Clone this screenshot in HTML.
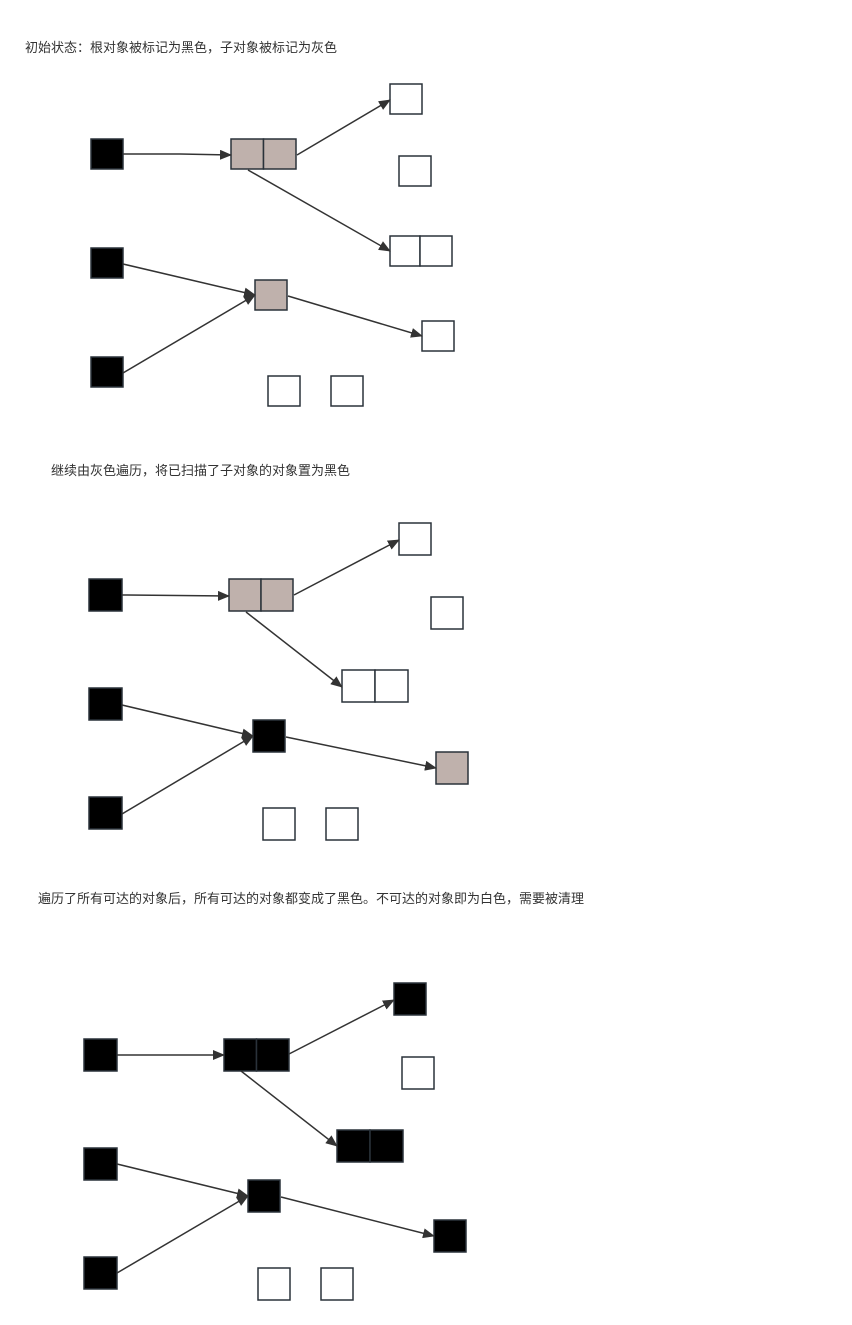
<!DOCTYPE html>
<html><head><meta charset="utf-8"><style>
html,body{margin:0;padding:0;background:#fff;}
svg{display:block}
text{font-family:"Liberation Sans","Noto Sans CJK SC",sans-serif;font-size:13px;fill:#333;}
</style></head><body>
<svg width="852" height="1325" xmlns="http://www.w3.org/2000/svg">
<defs><marker id="a" markerWidth="12" markerHeight="10" refX="11" refY="5" orient="auto" markerUnits="userSpaceOnUse"><path d="M0,0 L12,5 L0,10 z" fill="#333"/></marker></defs>
<g stroke="#2a323a" stroke-width="1.5">
<text x="25" y="52" stroke="none">初始状态：根对象被标记为黑色，子对象被标记为灰色</text>
<text x="51" y="475" stroke="none">继续由灰色遍历，将已扫描了子对象的对象置为黑色</text>
<text x="38" y="903" stroke="none">遍历了所有可达的对象后，所有可达的对象都变成了黑色。不可达的对象即为白色，需要被清理</text>
<!-- D1 -->
<rect x="91" y="139" width="32" height="30" fill="#000"/>
<rect x="91" y="248" width="32" height="30" fill="#000"/>
<rect x="91" y="357" width="32" height="30" fill="#000"/>
<rect x="231" y="139" width="32.5" height="30" fill="#bfb1ac"/><rect x="263.5" y="139" width="32.5" height="30" fill="#bfb1ac"/>
<rect x="390" y="84" width="32" height="30" fill="#fff"/>
<rect x="399" y="156" width="32" height="30" fill="#fff"/>
<rect x="390" y="236" width="30" height="30" fill="#fff"/><rect x="420" y="236" width="32" height="30" fill="#fff"/>
<rect x="255" y="280" width="32" height="30" fill="#bfb1ac"/>
<rect x="422" y="321" width="32" height="30" fill="#fff"/>
<rect x="268" y="376" width="32" height="30" fill="#fff"/>
<rect x="331" y="376" width="32" height="30" fill="#fff"/>
<g stroke="#333" marker-end="url(#a)" fill="none">
<path d="M123,154 L180,154 L231,155"/>
<path d="M297,155 L390,100"/>
<path d="M248,170 L390,251"/>
<path d="M123,264 L255,295"/>
<path d="M123,373 L255,295"/>
<path d="M288,296 L422,336"/>
</g>
<!-- D2 -->
<rect x="89" y="579" width="33" height="32" fill="#000"/>
<rect x="89" y="688" width="33" height="32" fill="#000"/>
<rect x="89" y="797" width="33" height="32" fill="#000"/>
<rect x="229" y="579" width="32" height="32" fill="#bfb1ac"/><rect x="261" y="579" width="32" height="32" fill="#bfb1ac"/>
<rect x="399" y="523" width="32" height="32" fill="#fff"/>
<rect x="431" y="597" width="32" height="32" fill="#fff"/>
<rect x="342" y="670" width="33" height="32" fill="#fff"/><rect x="375" y="670" width="33" height="32" fill="#fff"/>
<rect x="253" y="720" width="32" height="32" fill="#000"/>
<rect x="436" y="752" width="32" height="32" fill="#bfb1ac"/>
<rect x="263" y="808" width="32" height="32" fill="#fff"/>
<rect x="326" y="808" width="32" height="32" fill="#fff"/>
<g stroke="#333" marker-end="url(#a)" fill="none">
<path d="M122,595 L229,596"/>
<path d="M294,595 L399,540"/>
<path d="M246,612 L342,687"/>
<path d="M122,705 L253,736"/>
<path d="M122,814 L253,736"/>
<path d="M286,737 L436,768"/>
</g>
<!-- D3 -->
<rect x="84" y="1039" width="33" height="32" fill="#000"/>
<rect x="84" y="1148" width="33" height="32" fill="#000"/>
<rect x="84" y="1257" width="33" height="32" fill="#000"/>
<rect x="224" y="1039" width="32.5" height="32" fill="#000"/><rect x="256.5" y="1039" width="32.5" height="32" fill="#000"/>
<rect x="394" y="983" width="32" height="32" fill="#000"/>
<rect x="402" y="1057" width="32" height="32" fill="#fff"/>
<rect x="337" y="1130" width="33" height="32" fill="#000"/><rect x="370" y="1130" width="33" height="32" fill="#000"/>
<rect x="248" y="1180" width="32" height="32" fill="#000"/>
<rect x="434" y="1220" width="32" height="32" fill="#000"/>
<rect x="258" y="1268" width="32" height="32" fill="#fff"/>
<rect x="321" y="1268" width="32" height="32" fill="#fff"/>
<g stroke="#333" marker-end="url(#a)" fill="none">
<path d="M117,1055 L224,1055"/>
<path d="M289,1054 L394,1000"/>
<path d="M241,1071 L337,1146"/>
<path d="M117,1164 L248,1196"/>
<path d="M117,1273 L248,1196"/>
<path d="M281,1197 L434,1236"/>
</g>
</g>
</svg>
</body></html>
